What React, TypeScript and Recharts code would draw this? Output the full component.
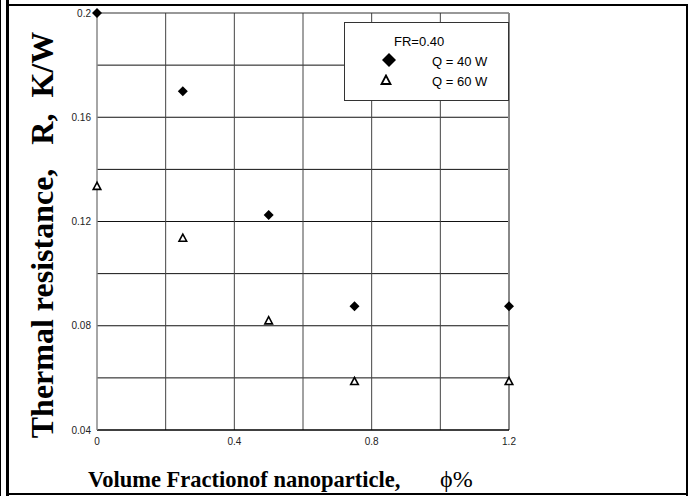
import React from 'react';
import { ScatterChart, Scatter, XAxis, YAxis, ReferenceLine } from 'recharts';

// ---- data ----
const volumeFraction = [0, 0.25, 0.5, 0.75, 1.2];
const resistanceQ40 = [0.2, 0.17, 0.1225, 0.0875, 0.0875];
const resistanceQ60 = [0.1336, 0.1137, 0.082, 0.0587, 0.0587];
const xTicks = [0, 0.4, 0.8, 1.2];
const yTicks = [0.04, 0.08, 0.12, 0.16, 0.2];
const xGrid = [0.2, 0.4, 0.6, 0.8, 1.0];
const yGrid = [0.06, 0.08, 0.1, 0.12, 0.14, 0.16, 0.18];
const seriesNames = ['Q = 40 W', 'Q = 60 W'];
const legendTitle = 'FR=0.40';
const xTitleMain = 'Volume Fractionof nanoparticle,';
const xTitleUnit = '\u03d5%';
const yTitle = 'Thermal resistance,\u00a0\u00a0\u00a0R,\u00a0\u00a0K/W';

const q40Data = volumeFraction.map((x, i) => ({ x, y: resistanceQ40[i] }));
const q60Data = volumeFraction.map((x, i) => ({ x, y: resistanceQ60[i] }));

const serif = "'Times New Roman', 'Liberation Serif', serif";
const sans = "Arial, 'Liberation Sans', sans-serif";

const Diamond = (props: any) => {
  const { cx, cy } = props;
  if (cx == null || cy == null) return null;
  const r = 5;
  return <polygon points={`${cx},${cy - r} ${cx + r},${cy} ${cx},${cy + r} ${cx - r},${cy}`} fill="#000" />;
};

const Triangle = (props: any) => {
  const { cx, cy } = props;
  if (cx == null || cy == null) return null;
  return (
    <polygon
      points={`${cx},${cy - 3.8} ${cx - 3.8},${cy + 3.3} ${cx + 3.8},${cy + 3.3}`}
      fill="#fff"
      stroke="#000"
      strokeWidth={1.6}
      strokeLinejoin="miter"
    />
  );
};

const XTitle = (props: any) => {
  return (
    <text y={487} fontFamily={serif} fontSize={22.5} fill="#000">
      <tspan x={88} fontWeight="bold">{xTitleMain}</tspan>
      <tspan x={440} fontWeight="normal" fontSize={24}>{xTitleUnit}</tspan>
    </text>
  );
};

const YTitle = (props: any) => {
  return (
    <text
      x={53}
      y={235}
      textAnchor="middle"
      transform="rotate(-90, 53, 235)"
      fontFamily={serif}
      fontWeight="bold"
      fontSize={32}
      fill="#000"
    >
      {yTitle}
    </text>
  );
};

const Frame = () => (
  <>
    <div style={{ position: 'absolute', left: 0, top: 0, width: 1, height: 496, background: '#000' }} />
    <div style={{ position: 'absolute', left: 6, top: 0, width: 3, height: 496, background: '#000' }} />
    <div style={{ position: 'absolute', left: 9, top: 4, width: 679, height: 2, background: '#000' }} />
    <div style={{ position: 'absolute', left: 686, top: 4, width: 2, height: 492, background: '#000' }} />
    <div style={{ position: 'absolute', left: 9, top: 493, width: 679, height: 2, background: '#000' }} />
  </>
);

const LegendBox = () => (
  <div
    style={{
      position: 'absolute',
      left: 344,
      top: 22,
      width: 163,
      height: 77,
      border: '1px solid #333',
      background: '#fff',
      fontFamily: sans,
      fontSize: 13,
      color: '#000',
    }}
  >
    <div style={{ position: 'absolute', left: 49, top: 11, lineHeight: '15px' }}>{legendTitle}</div>
    <svg style={{ position: 'absolute', left: 36, top: 29 }} width={16} height={16}>
      <polygon points="8,1 15,8 8,15 1,8" fill="#000" />
    </svg>
    <div style={{ position: 'absolute', left: 87, top: 31, lineHeight: '15px' }}>{seriesNames[0]}</div>
    <svg style={{ position: 'absolute', left: 35, top: 51 }} width={12} height={12}>
      <polygon points="6,1.5 1.5,10 10.5,10" fill="#fff" stroke="#000" strokeWidth={1.8} />
    </svg>
    <div style={{ position: 'absolute', left: 87, top: 51, lineHeight: '15px' }}>{seriesNames[1]}</div>
  </div>
);

export default function App() {
  return (
    <div style={{ position: 'absolute', left: 0, top: 0, width: 695, height: 496, background: '#fff' }}>
      <ScatterChart width={695} height={496} margin={{ top: 13, right: 186, bottom: 46, left: 57 }}>
        <XAxis
          type="number"
          dataKey="x"
          domain={[0, 1.2]}
          ticks={xTicks}
          height={20}
          tickLine={false}
          axisLine={{ stroke: '#000', strokeWidth: 1.5 }}
          tick={{ fontFamily: sans, fontSize: 10, fill: '#222' }}
          tickSize={6}
          tickMargin={2}
          label={<XTitle />}
        />
        <YAxis
          type="number"
          dataKey="y"
          domain={[0.04, 0.2]}
          ticks={yTicks}
          width={40}
          tickLine={false}
          axisLine={{ stroke: '#888', strokeWidth: 1.5 }}
          tick={{ fontFamily: sans, fontSize: 10, fill: '#222' }}
          tickSize={4}
          tickMargin={2}
          label={<YTitle />}
        />
        {yGrid.map((v) => (
          <ReferenceLine key={'h' + v} y={v} stroke="#111" strokeWidth={1} />
        ))}
        {xGrid.map((v) => (
          <ReferenceLine key={'v' + v} x={v} stroke="#444" strokeWidth={1} />
        ))}
        <ReferenceLine y={0.2} stroke="#333" strokeWidth={1.2} />
        <ReferenceLine x={1.2} stroke="#888" strokeWidth={2} />
        <Scatter name={seriesNames[0]} data={q40Data} shape={<Diamond />} isAnimationActive={false} />
        <Scatter name={seriesNames[1]} data={q60Data} shape={<Triangle />} isAnimationActive={false} />
      </ScatterChart>
      <LegendBox />
      <Frame />
    </div>
  );
}
